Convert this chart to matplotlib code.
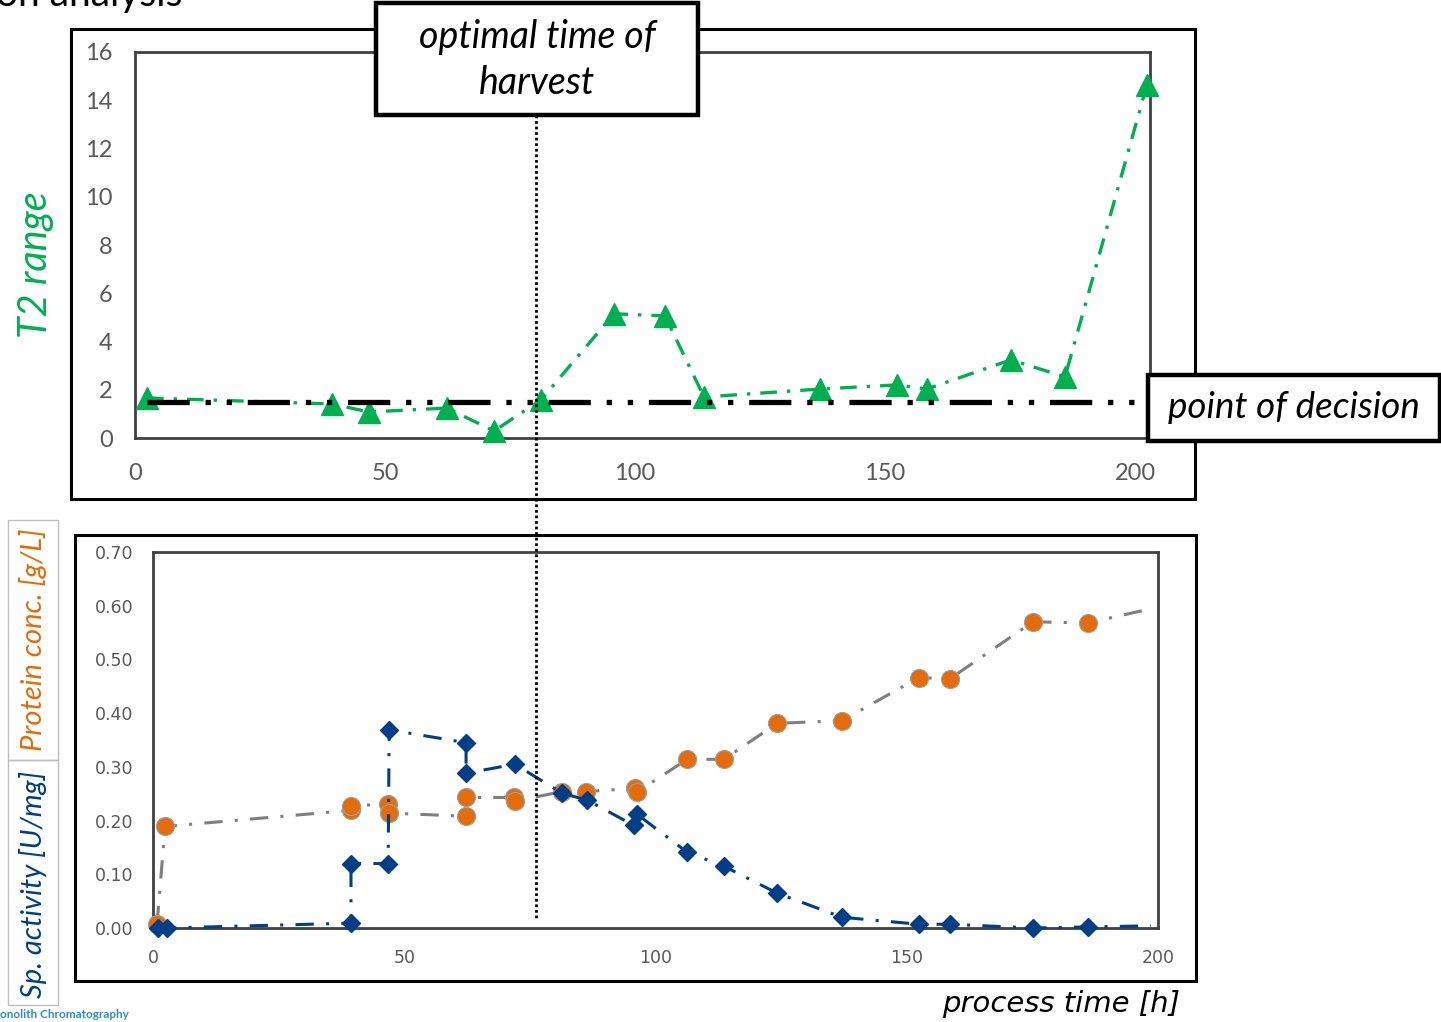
import matplotlib
matplotlib.use('Agg')
import matplotlib.pyplot as plt
from matplotlib.patches import Rectangle
from matplotlib.lines import Line2D

# ─── Data ────────────────────────────────────────────────────────────
t2_time = [2.4, 39.4, 46.8, 62.4, 71.8, 81.2, 95.8, 106.0, 113.8, 137.0, 152.4, 158.4, 175.2, 186.0, 202.4]
t2_range = [1.66, 1.41, 1.08, 1.24, 0.29, 1.58, 5.15, 5.06, 1.70, 2.03, 2.20, 2.03, 3.24, 2.53, 14.65]
decision_level = 1.5

prot_time = [0.8, 2.4, 39.4, 39.4, 46.8, 47.0, 62.3, 62.3, 71.8, 72.0, 81.4, 86.2,
             95.9, 96.3, 106.3, 113.6, 124.2, 137.1, 152.4, 158.6, 175.1, 186.1, 198.4]
prot_conc = [0.007, 0.189, 0.219, 0.228, 0.230, 0.214, 0.208, 0.243, 0.243, 0.236, 0.254, 0.254,
             0.260, 0.253, 0.314, 0.314, 0.381, 0.386, 0.466, 0.464, 0.570, 0.568, 0.594]

act_time = [1.0, 2.8, 39.4, 39.4, 46.8, 47.0, 62.3, 62.3, 72.0, 81.4, 86.4,
            95.7, 96.3, 106.3, 113.6, 124.2, 137.1, 152.4, 158.6, 175.1, 186.1, 198.6]
act_value = [0.0, 0.0, 0.009, 0.120, 0.120, 0.369, 0.345, 0.288, 0.305, 0.251, 0.238,
             0.191, 0.212, 0.141, 0.115, 0.065, 0.020, 0.007, 0.007, 0.0, 0.002, 0.004]

GREEN = '#00B050'
ORANGE = '#E46C0A'
BLUE = '#003F87'
GRAY = '#7F7F7F'
TICK = '#595959'

W, H = 1441, 1022
def fx(px):
    return px / W
def fy(py):
    return 1 - py / H

plt.rcParams['font.family'] = ['Lato', 'DejaVu Sans']

fig = plt.figure(figsize=(W / 100, H / 100), dpi=100)
fig.patch.set_facecolor('white')

# ─── Top panel: T2 range ─────────────────────────────────────────────
ax1 = fig.add_axes([fx(135), fy(438), fx(1150) - fx(135), fy(52) - fy(438)])
ax1.set_xlim(0, 203)
ax1.set_ylim(0, 16)
ax1.set_xticks([0, 50, 100, 150, 200])
ax1.set_yticks(range(0, 17, 2))
ax1.tick_params(length=0, labelsize=17, labelcolor=TICK)
ax1.tick_params(axis='y', pad=16)
ax1.tick_params(axis='x', pad=18)
for s in ax1.spines.values():
    s.set_color('#404040')
    s.set_linewidth(2)

ax1.plot(t2_time, t2_range, color=GREEN, lw=2.4, linestyle=(0, (5, 3, 1, 3)),
         marker='^', ms=16, mec=GREEN, mfc=GREEN, clip_on=False, zorder=3)
ax1.plot([t2_time[0], 203], [decision_level, decision_level], color='black', lw=3.8,
         linestyle=(0, (8, 3, 1, 3, 1, 3)), dash_capstyle='butt', clip_on=False, zorder=4)

# ─── Bottom panel: protein conc. and specific activity ───────────────
ax2 = fig.add_axes([fx(153), fy(928), fx(1158) - fx(153), fy(552) - fy(928)])
ax2.set_xlim(0, 200)
ax2.set_ylim(0, 0.70)
ax2.set_xticks([0, 50, 100, 150, 200])
ax2.set_yticks([0.0, 0.1, 0.2, 0.3, 0.4, 0.5, 0.6, 0.7])
ax2.set_yticklabels([f'{v:.2f}' for v in ax2.get_yticks()])
ax2.tick_params(length=0, labelsize=12.5, labelcolor=TICK)
ax2.tick_params(axis='y', pad=14)
ax2.tick_params(axis='x', pad=15)
for lab in ax2.get_xticklabels() + ax2.get_yticklabels():
    lab.set_fontfamily('DejaVu Sans')
for s in ax2.spines.values():
    s.set_color('#404040')
    s.set_linewidth(2)

ax2.plot(prot_time, prot_conc, color=GRAY, lw=2.2, linestyle=(0, (6, 4, 1, 4)),
         marker='o', ms=13, mfc=ORANGE, mec='#A0A0A0', mew=0.8,
         markevery=list(range(len(prot_time) - 1)), clip_on=False, zorder=3)
ax2.plot(act_time, act_value, color=BLUE, lw=2.2, linestyle=(0, (6, 4, 1, 4)),
         marker='D', ms=9, mfc=BLUE, mec=BLUE,
         markevery=list(range(len(act_time) - 1)), clip_on=False, zorder=4)

# ─── Frames, boxes and labels ────────────────────────────────────────
def frame(x0, y0, x1, y1, lw=2.2, ec='black', fc='none', z=2):
    r = Rectangle((fx(x0), fy(y1)), fx(x1) - fx(x0), fy(y0) - fy(y1),
                  transform=fig.transFigure, fill=(fc != 'none'), fc=fc, ec=ec,
                  lw=lw, zorder=z)
    fig.add_artist(r)

frame(71, 29, 1195, 499)
frame(75, 535, 1196, 981)
frame(8, 520, 58, 760, lw=1, ec='#BFBFBF')
frame(8, 760, 58, 1005, lw=1, ec='#BFBFBF')

# harvest marker line across both panels
fig.add_artist(Line2D([fx(536), fx(536)], [fy(115), fy(918)], transform=fig.transFigure,
                      color='black', lw=2, linestyle=(0, (1, 1)), zorder=3))

frame(376, 3, 698, 115, lw=3.2, fc='white', z=5)
fig.text(fx(537), fy(60), 'optimal time of\nharvest', ha='center', va='center',
         fontsize=27, style='italic', linespacing=1.32, zorder=6)

frame(1148, 375, 1440, 441, lw=3.2, fc='white', z=5)
fig.text(fx(1294), fy(408), 'point of decision', ha='center', va='center',
         fontsize=26.5, style='italic', zorder=6)

fig.text(fx(35), fy(265), 'T2 range', rotation=90, ha='center', va='center',
         fontsize=28.5, style='italic', color=GREEN)
fig.text(fx(33), fy(640), 'Protein conc. [g/L]', rotation=90, ha='center', va='center',
         fontsize=21, style='italic', color=ORANGE)
fig.text(fx(33), fy(884), 'Sp. activity [U/mg]', rotation=90, ha='center', va='center',
         fontsize=21, style='italic', color=BLUE)

fig.text(fx(1180), fy(1004), 'process time [h]', ha='right', va='center',
         fontsize=21, style='italic', family='DejaVu Sans')

# cut-off slide remnants
fig.text(fx(-4), fy(6), 'on analysis', ha='left', va='baseline', fontsize=28)
fig.text(fx(0), fy(1014), 'onolith Chromatography', ha='left', va='center',
         fontsize=8.5, color='#2C8FB8', weight='bold')

fig.savefig('out.png', dpi=100, facecolor='white')
